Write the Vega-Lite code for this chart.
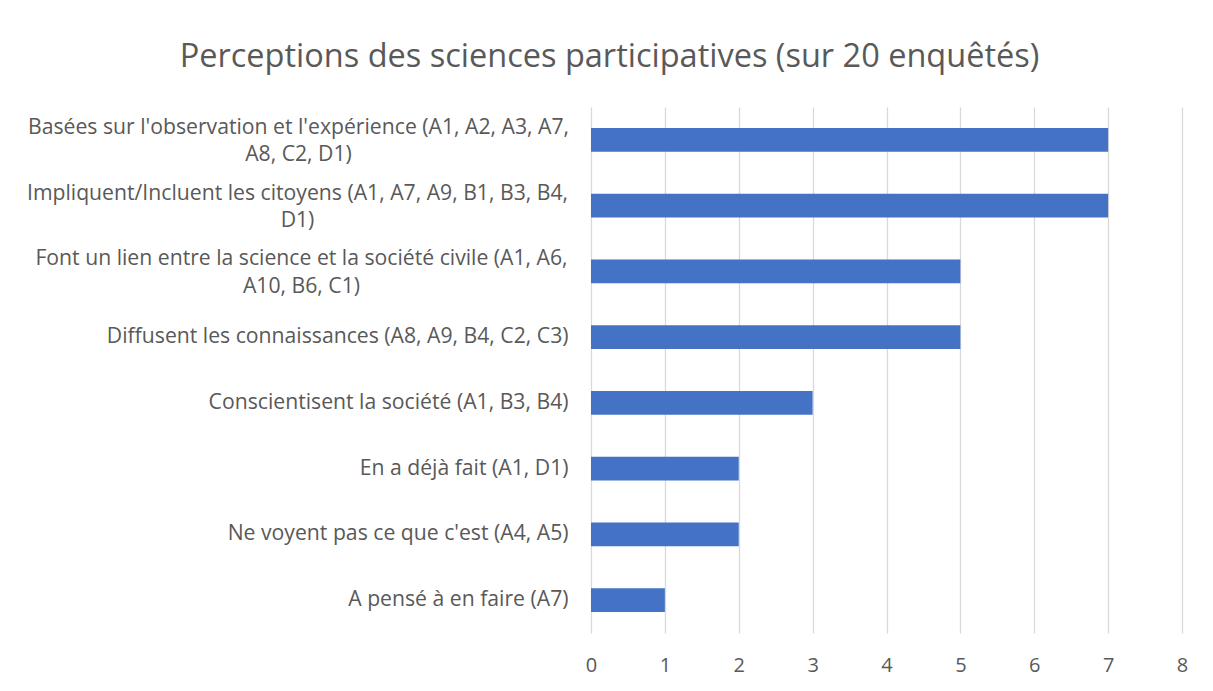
{
  "$schema": "https://vega.github.io/schema/vega-lite/v6.json",
  "autosize": "none",
  "width": 591,
  "height": 526,
  "padding": {"left": 591, "top": 107, "right": 31, "bottom": 58},
  "background": "white",
  "config": {
    "view": {"stroke": null},
    "font": "Open Sans"
  },
  "title": {
    "text": "Perceptions des sciences participatives (sur 20 enquêtés)",
    "anchor": "middle",
    "frame": "group",
    "dx": -277,
    "offset": 34,
    "fontSize": 32.5,
    "fontWeight": "normal",
    "color": "#595959",
    "font": "Open Sans"
  },
  "data": {
    "values": [
      {"cat": "Basées sur l'observation et l'expérience (A1, A2, A3, A7,|A8, C2, D1)", "n": 7},
      {"cat": "Impliquent/Incluent les citoyens (A1, A7, A9, B1, B3, B4,|D1)", "n": 7},
      {"cat": "Font un lien entre la science et la société civile (A1, A6,|A10, B6, C1)", "n": 5},
      {"cat": "Diffusent les connaissances (A8, A9, B4, C2, C3)", "n": 5},
      {"cat": "Conscientisent la société (A1, B3, B4)", "n": 3},
      {"cat": "En a déjà fait (A1, D1)", "n": 2},
      {"cat": "Ne voyent pas ce que c'est (A4, A5)", "n": 2},
      {"cat": "A pensé à en faire (A7)", "n": 1}
    ]
  },
  "mark": {"type": "bar", "color": "#4472C4"},
  "encoding": {
    "y": {
      "field": "cat",
      "type": "nominal",
      "sort": null,
      "scale": {"paddingInner": 0.64, "paddingOuter": 0.32},
      "axis": {
        "title": null,
        "ticks": false,
        "domain": false,
        "labelFontSize": 21.2,
        "labelColor": "#595959",
        "labelLimit": 600,
        "labelLineHeight": 27.5,
        "labelExpr": "split(datum.value, '|')",
        "labelAlign": {"condition": {"test": "indexof(datum.value, '|') >= 0", "value": "center"}, "value": "right"},
        "labelOffset": {"condition": {"test": "indexof(datum.value, '|') >= 0", "value": -12}, "value": 0},
        "labelPadding": {
          "condition": [
            {"test": "indexof(datum.value, 'Basées') == 0", "value": 293},
            {"test": "indexof(datum.value, 'Impliquent') == 0", "value": 294},
            {"test": "indexof(datum.value, 'Font un') == 0", "value": 290}
          ],
          "value": 23
        }
      }
    },
    "x": {
      "field": "n",
      "type": "quantitative",
      "scale": {"domain": [0, 8], "nice": false},
      "axis": {
        "title": null,
        "values": [0, 1, 2, 3, 4, 5, 6, 7, 8],
        "ticks": false,
        "domain": false,
        "grid": true,
        "gridColor": "#D9D9D9",
        "gridWidth": 1.3,
        "labelFlush": false,
        "labelPadding": 22,
        "labelFontSize": 20,
        "labelColor": "#595959"
      }
    }
  }
}
